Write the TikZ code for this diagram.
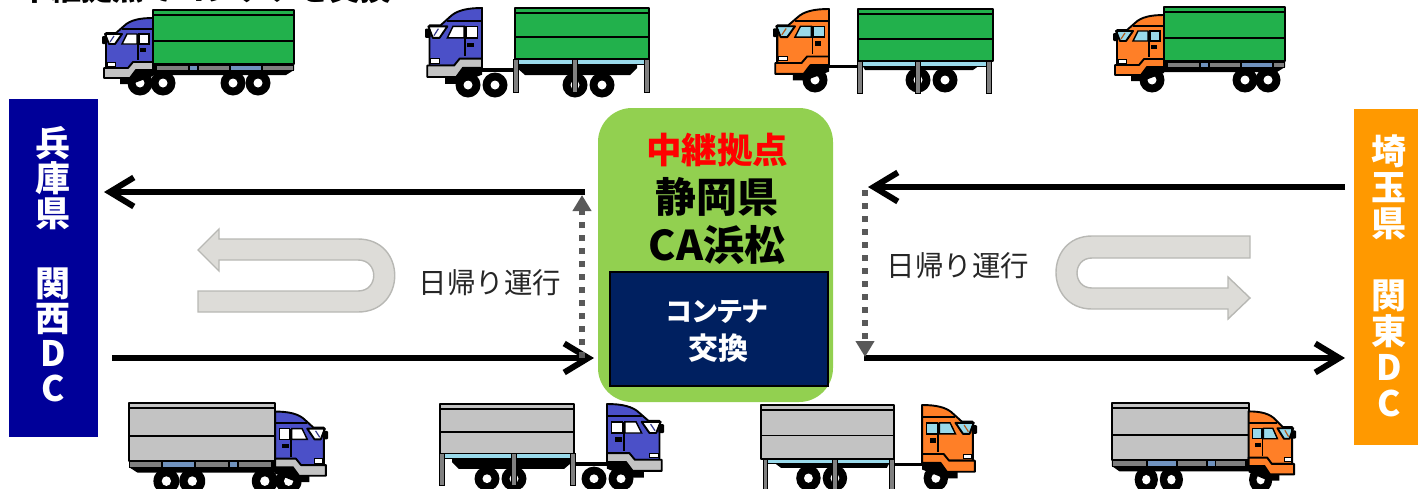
\documentclass[tikz,border=0pt]{standalone}
\usepackage{fontspec}
\usetikzlibrary{arrows.meta}
\newfontfamily\jp{Noto Sans CJK JP}
\definecolor{cabblue}{HTML}{4B50C8}
\definecolor{cabor}{HTML}{FF7F27}
\definecolor{boxgreen}{HTML}{22B14C}
\definecolor{boxgray}{HTML}{C3C3C3}
\definecolor{winblue}{HTML}{99D9EA}
\definecolor{stripgray}{HTML}{7F7F7F}
\definecolor{stripblue}{HTML}{7092BE}
\definecolor{basegreen}{HTML}{92D050}
\definecolor{navy}{HTML}{002060}
\definecolor{dcblue}{HTML}{000099}
\definecolor{dcor}{HTML}{FF9900}
\definecolor{uturn}{HTML}{DDDCD8}
\definecolor{uedge}{HTML}{B8B8B4}
\definecolor{dots}{HTML}{595959}
\tikzset{
  tline/.style={draw=black,line width=1.9,line join=round},
  mainarrow/.style={line width=5.5,-{Straight Barb[length=24pt,width=29pt,line width=6pt]},black},
  dotarrow/.style={line width=5.5,dots,dash pattern=on 6 off 7,
    -{Triangle[length=16pt,width=18pt,fill=dots]}},
  uarrow/.style={fill=uturn,draw=uedge,line width=1.4},
  jpbold/.style={font=\jp\bfseries\fontsize{#1}{#1}\selectfont,inner sep=0pt,align=center},
  dcbox/.style={rectangle,inner sep=0pt,minimum width=89,minimum height=338},
}
% cab in its own frame: 51 wide, y from 8 to 68
\newcommand{\cabin}[3]{%
  \path[fill=black] (18,68) -- (28,68) -- (34,60) -- (51,60) -- (51,66) -- (30,74) -- (18,74) -- cycle;
  \path[tline,fill=#1] (51,8) .. controls (38,8) and (28,10) .. (22,16) -- (14,23) -- (4,23) -- (4,58) -- (51,58) -- cycle;
  \draw[tline,fill=#3] (2,58) -- (26,58) -- (31,52) -- (51,52) -- (51,60) -- (34,60) -- (28,68) -- (2,68) -- cycle;
  \draw[tline] (20,19) -- (51,19);
  \draw[tline,fill=#2] (3,24) -- (20,24) -- (13,34) -- (7,34) -- cycle;
  \draw[line width=1.2,#1!70!black] (12,26) -- (8,32);
  \path[fill=black,rounded corners=1] (0,26) rectangle (5,34);
  \draw[line width=1.4,fill=#2] (25,24) -- (35,24) -- (35,34) -- (20,34) -- cycle;
  \draw[line width=1.4,fill=#2] (37,24) rectangle (47,34);
  \draw[tline] (36,24) -- (36,50);
  \path[fill=black] (38,38) rectangle (44,42);
  \draw[line width=.8,fill=white] (5,52) rectangle (13,56);
  \draw[tline] (4,23) -- (4,58);
}
\newcommand{\wheel}[2]{%
  \path[fill=black] (#1,#2) circle[radius=12.5];
  \path[fill=white] (#1,#2) circle[radius=4.5];
}
% cargo box: x0, x1, height, colour
\newcommand{\cargo}[4]{%
  \draw[tline,fill=#4] (#1,0) rectangle (#2,#3);
  \draw[line width=2] (#1,5) -- (#2,5);
  \draw[line width=1.8] (#1,{#3*0.57}) -- (#2,{#3*0.57});
}
% rigid truck: cab colour, window, bumper, box colour, box end, wheels
\newcommand{\rigid}[6]{%
  \path[fill=black] (48,54) -- (#5,54) -- (#5,60) -- ({#5-8},65) -- (48,65) -- cycle;
  \foreach \w in {#6} {\wheel{\w}{73}}
  \cargo{51}{#5}{54}{#4}
  \path[fill=black] (51,54) rectangle (#5,61);
  \path[fill=stripgray] (55,55.5) rectangle (86,60);
  \path[fill=stripblue] (87.5,55.5) rectangle (95,60);
  \path[fill=stripgray] (97,55.5) rectangle (127,60);
  \path[fill=stripblue] (129,55.5) rectangle (159,60);
  \path[fill=stripgray] (161,55.5) rectangle ({#5-1},60);
  \cabin{#1}{#2}{#3}
}
\newcommand{\leg}[2]{\draw[line width=.9,fill=gray] ({#1-2.4},#2) rectangle ({#1+2.4},84);}
% articulated, two-axle tractor
\newcommand{\semiA}[4]{%
  \path[fill=black] (45,60) rectangle (92,64);
  \path[fill=black] (90,56) -- (212,56) -- (212,60) -- (205,67) -- (100,67) -- (92,60) -- cycle;
  \foreach \w in {150,177} {\wheel{\w}{77}}
  \foreach \w in {43,70} {\wheel{\w}{77}}
  \draw[line width=1,fill=winblue] (92,51) rectangle (222,56);
  \foreach \w in {91,150,222} {\leg{\w}{51}}
  \cargo{90}{224}{51}{#4}
  \begin{scope}[xscale=1.118,yscale=1.15,shift={(0,-8)}]\cabin{#1}{#2}{#3}\end{scope}
}
% articulated, one-axle tractor
\newcommand{\semiB}[4]{%
  \path[fill=black] (45,56) rectangle (90,59);
  \path[fill=black] (88,54) -- (207,54) -- (207,56) -- (200,61) -- (92,61) -- cycle;
  \foreach \w in {145,172} {\wheel{\w}{71}}
  \wheel{42}{71}
  \draw[line width=1,fill=winblue] (88,52) rectangle (216,57);
  \foreach \w in {87,145,216} {\leg{\w}{52}}
  \cargo{85}{220}{52}{#4}
  \begin{scope}[xscale=1.098,yscale=1.08,shift={(0,-8)}]\cabin{#1}{#2}{#3}\end{scope}
}
\begin{document}
\begin{tikzpicture}[x=1pt,y=-1pt]
\clip (0,0) rectangle (1418,488);
\useasboundingbox (0,0) rectangle (1418,488);

% heading, cut off by the top edge
\node[jpbold=31] (head) at (205,-11) {中継拠点でコンテナを交換};

% trucks, top row
\begin{scope}[shift={(102,10)}]\rigid{cabblue}{white}{boxgray}{boxgreen}{192}{38,61,131,156}\end{scope}
\begin{scope}[shift={(425,8)}]\semiA{cabblue}{white}{boxgray}{boxgreen}\end{scope}
\begin{scope}[shift={(773,9)}]\semiB{cabor}{winblue}{cabor}{boxgreen}\end{scope}
\begin{scope}[shift={(1113,7)}]\rigid{cabor}{winblue}{cabor}{boxgreen}{172}{39,132,155}\end{scope}
% trucks, bottom row
\begin{scope}[shift={(328,403)},xscale=-1.036,yscale=1.07]\rigid{cabblue}{white}{boxgray}{boxgray}{192}{38,61,131,156}\end{scope}
\begin{scope}[shift={(664,404)},xscale=-1,yscale=.97]\semiA{cabblue}{white}{boxgray}{boxgray}\end{scope}
\begin{scope}[shift={(977,405)},xscale=-.98,yscale=1.03]\semiB{cabor}{winblue}{cabor}{boxgray}\end{scope}
\begin{scope}[shift={(1296,403)},xscale=-.93,yscale=1.05]\rigid{cabor}{winblue}{cabor}{boxgray}{198}{38,134,161}\end{scope}

% end points
\node[dcbox,fill=dcblue] (west) at (53.5,268) {};
\node[inner sep=0pt,align=center,text=white,font=\jp\bfseries\fontsize{35}{35}\selectfont] (westlabel) at (53,264.5) {兵\\庫\\県\\[35pt]関\\西\\D\\C};
\node[rectangle,inner sep=0pt,minimum width=64,minimum height=336,fill=dcor] (east) at (1386,277) {};
\node[inner sep=0pt,align=center,text=white,font=\jp\bfseries\fontsize{35}{36}\selectfont] (eastlabel) at (1389,276) {埼\\玉\\県\\[36pt]関\\東\\D\\C};

% relay base
\node[rectangle,rounded corners=34,fill=basegreen,minimum width=235,minimum height=294,inner sep=0pt] (base) at (715.5,255) {};
\node[jpbold=35.5,text=red] (relay) at (717,150) {中継拠点};
\node[jpbold=41] (pref) at (717,197) {静岡県};
\node[jpbold=41] (site) at (717,245) {CA浜松};
\node[rectangle,draw=black,line width=1.2,fill=navy,minimum width=218,minimum height=114,inner sep=0pt] (swap) at (719,329) {};
\node[inner sep=0pt,text=white,font=\jp\bfseries\addfontfeature{RawFeature=+palt}\fontsize{27}{27}\selectfont] (swap1) at (717,312) {コンテナ};
\node[jpbold=30,text=white] (swap2) at (718,348) {交換};

% connector ends
\coordinate (wt) at (104,192);
\coordinate (wb) at (112,358);
\coordinate (ct) at (585,192);
\coordinate (cb) at (594,358);
\coordinate (dt) at (868,187);
\coordinate (db) at (864,358);
\coordinate (et) at (1345,187);
\coordinate (eb) at (1345,358);
\coordinate (lu) at (582,195);
\coordinate (ld) at (582,358);
\coordinate (ru) at (865,190);
\coordinate (rd) at (865,357);

\draw[mainarrow] (ct) -- (wt);
\draw[mainarrow] (wb) -- (cb);
\draw[mainarrow] (et) -- (dt);
\draw[mainarrow] (db) -- (eb);
\draw[dotarrow] (ld) -- (lu);
\draw[dotarrow] (ru) -- (rd);

% U-turn arrows
\draw[uarrow] (198,250) -- (219,229) -- (219,239) -- (358,239)
  .. controls (407,239) and (407,312) .. (358,312) -- (198,312) -- (198,291) -- (358,291)
  .. controls (379,291) and (379,260) .. (358,260) -- (219,260) -- (219,271) -- cycle;
\draw[uarrow] (1250,298) -- (1228,277) -- (1228,288) -- (1092,288)
  .. controls (1072,288) and (1072,258) .. (1092,258) -- (1250,258) -- (1250,236) -- (1092,236)
  .. controls (1044,236) and (1044,309) .. (1092,309) -- (1228,309) -- (1228,319) -- cycle;

\node[font=\jp\fontsize{28.5}{28.5}\selectfont,inner sep=0pt,text=black!85] (dayl) at (490,283) {日帰り運行};
\node[font=\jp\fontsize{28.5}{28.5}\selectfont,inner sep=0pt,text=black!85] (dayr) at (958,266) {日帰り運行};
\end{tikzpicture}
\end{document}
